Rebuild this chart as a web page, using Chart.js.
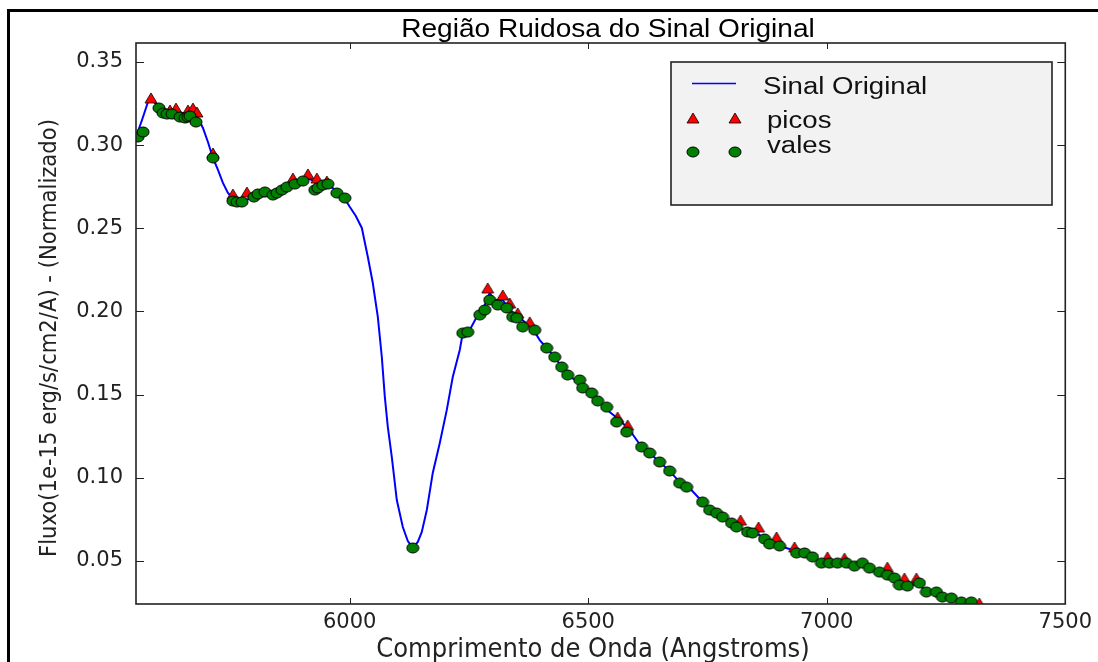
<!DOCTYPE html>
<html>
<head>
<meta charset="utf-8">
<script src="https://cdn.jsdelivr.net/npm/chart.js@4.4.1/dist/chart.umd.min.js"></script>
<style>
html,body{margin:0;padding:0;background:#fff;overflow:hidden}
#wrap{width:1098px;height:662px}
</style>
</head>
<body>
<div id="wrap"><canvas id="c" width="1098" height="662"></canvas></div>
<script>
// sinal original (comprimento de onda, fluxo)
const waveLine = [5552,5564.6,5577.1,5583.4,5591.8,5602.3,5623.2,5644.2,5665.1,5681.9,5692.3,5702.8,5713.3,5723.8,5734.2,5744.7,5755.2,5769.8,5790.8,5811.7,5832.7,5853.6,5874.6,5895.5,5910.2,5920.7,5933.2,5947.9,5964.7,5979.3,5989.8,6000.3,6012.8,6025.4,6038,6048.4,6058.9,6067.3,6073.6,6079.9,6088.2,6098.7,6111.3,6121.8,6132.2,6142.7,6151.1,6161.6,6174.1,6188.8,6203.5,6216,6230.7,6237,6251.6,6268.4,6283.1,6293.5,6304,6320.8,6335.4,6352.2,6366.8,6381.5,6398.3,6412.9,6429.7,6444.3,6461.1,6482,6503,6523.9,6544.9,6565.8,6586.8,6611.9,6628.7,6649.6,6670.6,6691.5,6712.5,6739.7,6758.5,6781.6,6806.7,6833.9,6859.1,6880,6901,6921.9,6942.9,6970.1,6988.9,7016.2,7047.6,7074.8,7099.9,7127.2,7152.3,7173.3,7194.2,7215.2,7242.4,7267.6,7288.5,7309.5,7330.4,7351.4];
const fluxLine = [0.3049,0.3151,0.3259,0.3278,0.3253,0.3223,0.3199,0.3193,0.3187,0.3163,0.3103,0.3019,0.2923,0.2851,0.2773,0.2712,0.2682,0.267,0.2676,0.2688,0.27,0.2718,0.2742,0.2772,0.2802,0.279,0.2754,0.276,0.2742,0.27,0.2676,0.2628,0.2574,0.2502,0.2327,0.2171,0.1967,0.1726,0.1486,0.1305,0.1125,0.0866,0.0704,0.062,0.0578,0.0614,0.0674,0.0806,0.1029,0.1209,0.1408,0.1606,0.1768,0.187,0.1888,0.1979,0.2039,0.2111,0.2069,0.2069,0.2009,0.1973,0.1937,0.1907,0.1828,0.178,0.1726,0.1666,0.1606,0.1576,0.1516,0.1456,0.1396,0.1347,0.1287,0.1185,0.1149,0.1095,0.1041,0.0974,0.0938,0.0854,0.08,0.077,0.0716,0.0674,0.0656,0.0602,0.059,0.0572,0.0548,0.0524,0.0494,0.0487,0.0487,0.0481,0.0445,0.0421,0.0367,0.0361,0.0349,0.0313,0.0283,0.0271,0.0253,0.0247,0.0229,0.0205];

// picos
const picosWave = [5583.4,5623.2,5635.8,5660.9,5671.4,5679.8,5713.3,5755.2,5784.5,5880.9,5912.3,5931.1,5952.1,6289.3,6320.8,6335.4,6352.2,6377.3,6561.6,6582.6,6819.3,6857,6894.7,6932.4,7001.5,7037.1,7127.2,7162.8,7187.9,7319.9];
const picosFlux = [0.3284,0.3211,0.3223,0.3211,0.3223,0.3199,0.2953,0.2706,0.2718,0.2802,0.2827,0.2802,0.2784,0.2141,0.2099,0.2051,0.1991,0.1937,0.1365,0.1317,0.0746,0.0704,0.0644,0.0584,0.0524,0.0517,0.0463,0.0397,0.0397,0.0247];

// vales
const valesWave = [5556.2,5566.7,5600.2,5608.6,5617,5627.4,5644.2,5654.6,5660.9,5665.1,5677.7,5713.3,5755.2,5763.6,5774,5799.2,5807.6,5822.2,5839,5847.4,5857.8,5868.3,5885.1,5901.8,5926.9,5933.2,5943.7,5954.2,5973,5989.8,6132.2,6237,6247.4,6272.6,6283.1,6293.5,6310.3,6329.1,6341.7,6350.1,6362.6,6387.8,6412.9,6429.7,6444.3,6456.9,6482,6488.3,6507.2,6519.8,6538.6,6559.5,6580.5,6611.9,6628.7,6649.6,6670.6,6691.5,6706.2,6739.7,6754.4,6769,6781.6,6800.4,6810.9,6833.9,6844.4,6869.6,6880,6901,6936.6,6953.4,6970.1,6988.9,7005.7,7022.5,7041.3,7058.1,7074.8,7089.5,7110.5,7127.2,7141.9,7152.3,7169.1,7194.2,7208.9,7229.8,7242.4,7261.3,7282.2,7303.1];
const valesFlux = [0.3049,0.3079,0.3223,0.3193,0.3187,0.3187,0.3169,0.3163,0.3169,0.3175,0.3139,0.2923,0.2664,0.2658,0.2658,0.2688,0.2706,0.2718,0.27,0.2712,0.273,0.2748,0.2766,0.2784,0.273,0.2742,0.276,0.2766,0.2712,0.2682,0.0578,0.187,0.1876,0.1979,0.2009,0.2069,0.2039,0.2021,0.1967,0.1961,0.1907,0.1888,0.178,0.1726,0.1666,0.1618,0.1588,0.154,0.151,0.1462,0.1425,0.1335,0.1275,0.1185,0.1149,0.1095,0.1041,0.0968,0.0944,0.0854,0.0806,0.0788,0.0764,0.0728,0.0704,0.0674,0.0668,0.0632,0.0602,0.059,0.0548,0.0548,0.0524,0.0487,0.0487,0.0487,0.0487,0.0469,0.0487,0.0457,0.0433,0.0415,0.0397,0.0355,0.0349,0.0367,0.0313,0.0313,0.0283,0.0277,0.0253,0.0253];

const xTicks = [6000, 6500, 7000, 7500];
const yTicks = [0.05, 0.10, 0.15, 0.20, 0.25, 0.30, 0.35];
const xRange = [5552, 7500];
const yRange = [0.0241, 0.3614];

const pts = (xs, ys) => xs.map((x, i) => ({x, y: ys[i]}));

// marcadores (um pouco mais largos que altos, como na figura)
function markerCircle(){
  const c = document.createElement('canvas'); c.width = 14; c.height = 12;
  const g = c.getContext('2d');
  g.beginPath(); g.ellipse(7, 6, 6, 5, 0, 0, Math.PI*2);
  g.fillStyle = '#008000'; g.fill();
  g.lineWidth = 1; g.strokeStyle = '#000'; g.stroke();
  return c;
}
function markerTri(){
  const c = document.createElement('canvas'); c.width = 14; c.height = 12;
  const g = c.getContext('2d');
  g.beginPath(); g.moveTo(7, 1); g.lineTo(13, 11); g.lineTo(1, 11); g.closePath();
  g.fillStyle = '#ff0000'; g.fill();
  g.lineWidth = 0.8; g.strokeStyle = '#000'; g.stroke();
  return c;
}
const circ = markerCircle(), tri = markerTri();

function stretchText(ctx, txt, x, y, k){
  ctx.save(); ctx.translate(x, y); ctx.scale(k, 1); ctx.fillText(txt, 0, 0); ctx.restore();
}

const Frame = {
  id: 'frame',
  afterDraw(chart){
    const {ctx, chartArea: a, scales: {x, y}} = chart;
    ctx.save();
    // ticks para dentro
    ctx.strokeStyle = '#222'; ctx.lineWidth = 1;
    ctx.beginPath();
    xTicks.forEach(v => {
      const px = Math.round(x.getPixelForValue(v)) + 0.5;
      ctx.moveTo(px, a.bottom); ctx.lineTo(px, a.bottom - 6);
      ctx.moveTo(px, a.top); ctx.lineTo(px, a.top + 6);
    });
    yTicks.forEach(v => {
      const py = Math.round(y.getPixelForValue(v)) + 0.5;
      ctx.moveTo(a.left, py); ctx.lineTo(a.left + 8, py);
      ctx.moveTo(a.right, py); ctx.lineTo(a.right - 8, py);
    });
    ctx.stroke();
    ctx.lineWidth = 1.6; ctx.strokeStyle = '#222';
    ctx.strokeRect(a.left, a.top, a.right - a.left, a.bottom - a.top);

    // legenda
    const L = {x: 671, y: 62, w: 381, h: 143};
    ctx.fillStyle = '#f2f2f2'; ctx.fillRect(L.x, L.y, L.w, L.h);
    ctx.lineWidth = 1.6; ctx.strokeStyle = '#222'; ctx.strokeRect(L.x, L.y, L.w, L.h);
    ctx.strokeStyle = '#0000ff'; ctx.lineWidth = 1.5;
    ctx.beginPath(); ctx.moveTo(692, 83.5); ctx.lineTo(736, 83.5); ctx.stroke();
    [693, 735].forEach(mx => {
      ctx.drawImage(tri, mx - 7, 118 - 6);
      ctx.drawImage(circ, mx - 7, 152 - 6);
    });
    ctx.fillStyle = '#111'; ctx.textAlign = 'left'; ctx.textBaseline = 'alphabetic';
    ctx.font = '23px "Liberation Sans", Arial, sans-serif';
    stretchText(ctx, 'Sinal Original', 763, 94, 1.2);
    stretchText(ctx, 'picos', 767, 128, 1.2);
    stretchText(ctx, 'vales', 767, 153, 1.2);

    // título
    ctx.fillStyle = '#000'; ctx.textAlign = 'center';
    ctx.font = '26px "Liberation Sans", Arial, sans-serif';
    stretchText(ctx, 'Região Ruidosa do Sinal Original', 608, 37, 1.08);

    // rótulos dos eixos
    ctx.fillStyle = '#222';
    ctx.font = '27px "DejaVu Sans Condensed", "DejaVu Sans", sans-serif';
    ctx.fillText('Comprimento de Onda (Angstroms)', 593, 657);
    ctx.save();
    ctx.translate(56, 338); ctx.rotate(-Math.PI/2);
    ctx.font = '23.5px "DejaVu Sans Condensed", "DejaVu Sans", sans-serif';
    ctx.fillText('Fluxo(1e-15 erg/s/cm2/A) - (Normalizado)', 0, 0);
    ctx.restore();

    // moldura externa
    ctx.strokeStyle = '#000'; ctx.lineWidth = 3;
    ctx.strokeRect(8.5, 10.5, 1200, 800);
    ctx.restore();
  }
};

new Chart(document.getElementById('c'), {
  type: 'scatter',
  data: {
    datasets: [
      {label: 'Sinal Original', data: pts(waveLine, fluxLine), showLine: true, borderColor: '#0000ff',
       borderWidth: 2, pointRadius: 0, tension: 0, order: 3},
      {label: 'picos', data: pts(picosWave, picosFlux), pointStyle: tri, pointRadius: 6, order: 2},
      {label: 'vales', data: pts(valesWave, valesFlux), pointStyle: circ, pointRadius: 6, order: 1}
    ]
  },
  options: {
    responsive: false, animation: false, devicePixelRatio: 1,
    layout: {padding: {top: 43, right: 30, left: 0, bottom: 0}},
    plugins: {legend: {display: false}, tooltip: {enabled: false}, title: {display: false}},
    scales: {
      x: {
        type: 'linear', min: xRange[0], max: xRange[1],
        afterBuildTicks: s => { s.ticks = xTicks.map(v => ({value: v})); },
        afterFit: s => { s.height = 58; },
        grid: {display: false, drawTicks: false}, border: {display: false},
        ticks: {color: '#222', padding: 6, maxRotation: 0, autoSkip: false,
                font: {family: '"DejaVu Sans", sans-serif', size: 21},
                callback: v => String(v)}
      },
      y: {
        min: yRange[0], max: yRange[1],
        afterBuildTicks: s => { s.ticks = yTicks.map(v => ({value: v})); },
        afterFit: s => { s.width = 136; },
        grid: {display: false, drawTicks: false}, border: {display: false},
        ticks: {color: '#222', padding: 13,
                font: {family: '"DejaVu Sans", sans-serif', size: 21},
                callback: v => v.toFixed(2)}
      }
    }
  },
  plugins: [Frame]
});
</script>
</body>
</html>
